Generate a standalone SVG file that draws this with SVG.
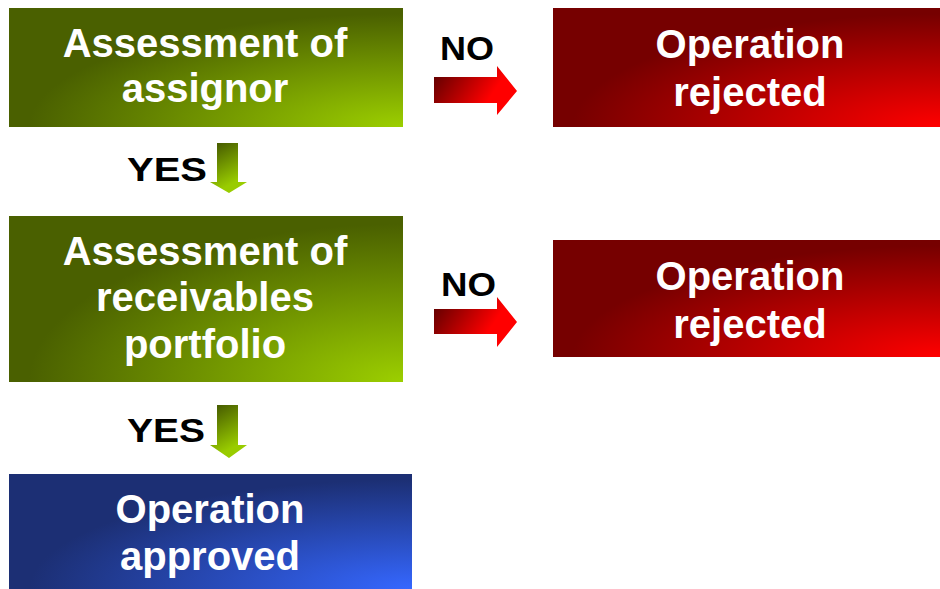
<svg xmlns="http://www.w3.org/2000/svg" width="940" height="589" viewBox="0 0 940 589">
<defs>
<radialGradient id="gGreen" cx="1" cy="1" r="1" fx="1" fy="1">
<stop offset="0" stop-color="#9ccf00"/>
<stop offset="0.95" stop-color="#4a6000"/>
</radialGradient>
<radialGradient id="gRed" cx="1" cy="1" r="1" fx="1" fy="1">
<stop offset="0" stop-color="#ff0000"/>
<stop offset="0.95" stop-color="#760000"/>
</radialGradient>
<radialGradient id="gBlue" cx="1" cy="1" r="1" fx="1" fy="1">
<stop offset="0" stop-color="#3567ff"/>
<stop offset="0.95" stop-color="#1c2f74"/>
</radialGradient>
<linearGradient id="aRed" x1="0" y1="0.3" x2="1" y2="0.7">
<stop offset="0" stop-color="#6a0000"/>
<stop offset="0.7" stop-color="#ff0000"/>
<stop offset="1" stop-color="#ff0000"/>
</linearGradient>
<linearGradient id="aGreen" x1="0.3" y1="0" x2="0.7" y2="1">
<stop offset="0" stop-color="#4a6000"/>
<stop offset="0.8" stop-color="#99cc00"/>
<stop offset="1" stop-color="#99cc00"/>
</linearGradient>
</defs>
<style>
.t{font-family:"Liberation Sans",Arial,sans-serif;font-weight:bold;font-size:40px;fill:#ffffff;text-anchor:middle}
.l{font-family:"Liberation Sans",Arial,sans-serif;font-weight:bold;font-size:34px;fill:#000000}
</style>
<g id="assess-assignor">
<rect x="9" y="8" width="394" height="119" fill="url(#gGreen)"/>
<text class="t" x="205" y="57">Assessment of</text>
<text class="t" x="205" y="102">assignor</text>
</g>
<g id="rejected-1">
<rect x="553" y="8" width="387" height="119" fill="url(#gRed)"/>
<text class="t" x="750" y="58">Operation</text>
<text class="t" x="750" y="106">rejected</text>
</g>
<g id="assess-portfolio">
<rect x="9" y="216" width="394" height="166" fill="url(#gGreen)"/>
<text class="t" x="205" y="265">Assessment of</text>
<text class="t" x="205" y="311">receivables</text>
<text class="t" x="205" y="358">portfolio</text>
</g>
<g id="rejected-2">
<rect x="553" y="240" width="387" height="117" fill="url(#gRed)"/>
<text class="t" x="750" y="290">Operation</text>
<text class="t" x="750" y="338">rejected</text>
</g>
<g id="approved">
<rect x="9" y="474" width="403" height="115" fill="url(#gBlue)"/>
<text class="t" x="210" y="523">Operation</text>
<text class="t" x="210" y="570">approved</text>
</g>
<g id="connectors">
<polygon points="434,77 497,77 497,66 517,91 497,115 497,103 434,103" fill="url(#aRed)"/>
<text class="l" x="440" y="60" textLength="54" lengthAdjust="spacingAndGlyphs">NO</text>
<polygon points="434,309 497,309 497,297 517,322 497,347 497,334 434,334" fill="url(#aRed)"/>
<text class="l" x="441" y="296" textLength="55" lengthAdjust="spacingAndGlyphs">NO</text>
<polygon points="217,143 238,143 238,182 247,182 229,193 210,182 217,182" fill="url(#aGreen)"/>
<text class="l" x="127" y="181" textLength="80" lengthAdjust="spacingAndGlyphs">YES</text>
<polygon points="217,405 238,405 238,445 247,445 229,458 210,445 217,445" fill="url(#aGreen)"/>
<text class="l" x="127" y="442" textLength="78" lengthAdjust="spacingAndGlyphs">YES</text>
</g>
</svg>
